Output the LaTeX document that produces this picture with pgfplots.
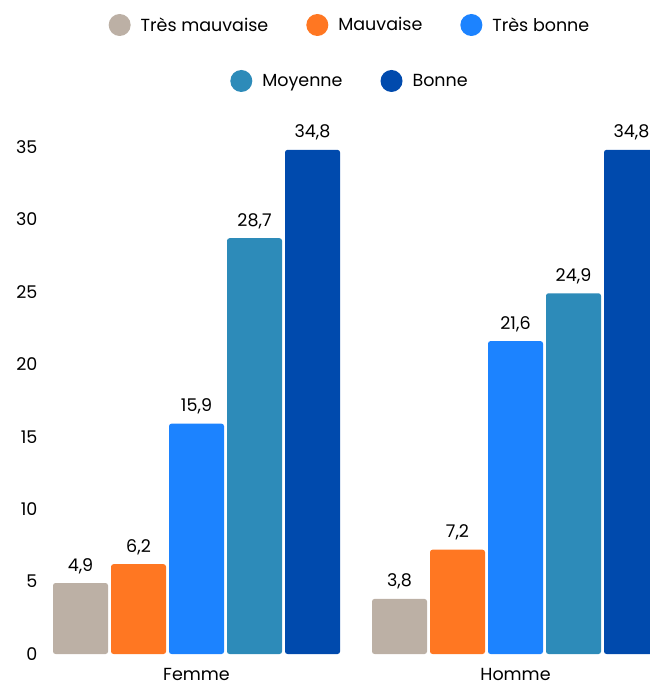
\documentclass[border=0pt]{standalone}
\usepackage{pgfplots}
\pgfplotsset{compat=1.18}
\usepackage{fontspec}
\setmainfont{Poppins}
\definecolor{cA}{HTML}{BCB0A5}
\definecolor{cB}{HTML}{FF7722}
\definecolor{cC}{HTML}{1C83FF}
\definecolor{cD}{HTML}{2D8BB9}
\definecolor{cE}{HTML}{004AAD}
\newcommand\f{\fontsize{17.5}{21}\selectfont}
\begin{document}
\begin{tikzpicture}
\path[use as bounding box] (-45pt,-27pt) rectangle (605pt,654pt);
\begin{axis}[
 scale only axis, width=605pt, height=536pt,
 xmin=-0.475, xmax=1.4216, ymin=0, ymax=37,
 ybar=3pt, bar width=55pt,
 axis line style={draw=none}, tick style={draw=none},
 xtick={0,1}, xticklabels={Femme,Homme},
 ytick={0,5,...,35},
 /pgf/number format/assume math mode=true,
 ticklabel style={font=\f},
 yticklabel style={xshift=-4pt},
 xticklabel style={anchor=base, yshift=-22pt},
 nodes near coords,
 nodes near coords style={font=\f, anchor=base, yshift=12pt,
   /pgf/number format/.cd, fixed, fixed zerofill, precision=1, use comma, assume math mode=true},
 every axis plot/.append style={draw=none, rounded corners=2.5pt},
 legend columns=3,
 legend image code/.code={\fill[#1] (0pt,0pt) circle (11pt);},
 legend style={draw=none, fill=none, font=\f, at={(0.5,1)}, anchor=center, yshift=93pt, xshift=2.5pt,
   nodes={inner sep=2pt},
   /tikz/every odd column/.append style={column sep=8pt},
   /tikz/every even column/.append style={column sep=36pt}},
]
\addplot[fill=cA] coordinates {(0,4.9) (1,3.8)}; \addlegendentry{Très mauvaise}
\addplot[fill=cB] coordinates {(0,6.2) (1,7.2)}; \addlegendentry{Mauvaise}
\addplot[fill=cC] coordinates {(0,15.9) (1,21.6)}; \addlegendentry{Très bonne}
\addplot[fill=cD] coordinates {(0,28.7) (1,24.9)};
\addplot[fill=cE] coordinates {(0,34.8) (1,34.8)};
\end{axis}
\begin{axis}[
 scale only axis, width=605pt, height=536pt, hide axis,
 xmin=0, xmax=1, ymin=0, ymax=1,
 legend columns=2,
 legend image code/.code={\fill[#1] (0pt,0pt) circle (11pt);},
 legend style={draw=none, fill=none, font=\f, at={(0.5,1)}, anchor=center, yshift=37pt, xshift=2.5pt,
   nodes={inner sep=2pt},
   /tikz/every odd column/.append style={column sep=8pt},
   /tikz/every even column/.append style={column sep=36pt}},
]
\addlegendimage{fill=cD, draw=none}\addlegendentry{Moyenne}
\addlegendimage{fill=cE, draw=none}\addlegendentry{Bonne}
\end{axis}
\end{tikzpicture}
\end{document}
